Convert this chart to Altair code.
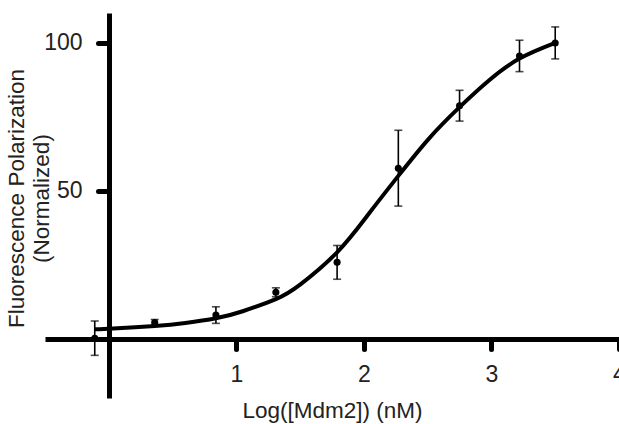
import altair as alt
import pandas as pd

# Binding titration: log concentration, normalized FP signal and SD
log_conc = [-0.11, 0.36, 0.84, 1.31, 1.79, 2.27, 2.75, 3.22, 3.50]
fp_mean = [0.2, 5.5, 8.0, 15.7, 25.8, 57.6, 78.7, 95.5, 99.9]
fp_sd = [5.8, 1.0, 2.8, 1.5, 5.7, 12.8, 5.2, 5.3, 5.4]

# Fitted dose-response curve, sampled along x
fit_x = [-0.11, 0.0, 0.36, 0.6, 0.84, 1.05, 1.31, 1.5, 1.79, 2.04, 2.27, 2.51, 2.75, 2.98, 3.22, 3.5]
fit_y = [3.2, 3.4, 4.3, 5.3, 6.9, 9.3, 13.4, 18.3, 29.2, 42.3, 55.0, 67.6, 78.2, 87.2, 94.6, 99.9]

x_ticks = [1, 2, 3, 4]
y_ticks = [50, 100]

pts = pd.DataFrame({"x": log_conc, "y": fp_mean, "sd": fp_sd})
pts["lo"] = pts["y"] - pts["sd"]
pts["hi"] = pts["y"] + pts["sd"]
fit = pd.DataFrame({"x": fit_x, "y": fit_y})

FONT = "Liberation Sans, Arial, Helvetica, sans-serif"
W, H = 574, 385

xscale = alt.Scale(domain=[-0.5, 4.0], nice=False, zero=False)
yscale = alt.Scale(domain=[-20, 110], nice=False, zero=False)

xaxis = alt.Axis(
    values=x_ticks, format="d", offset=-59, title="Log([Mdm2]) (nM)",
    domainWidth=5, domainColor="black", tickWidth=5, tickSize=10,
    tickCap="round", tickColor="black", labelFontSize=23, labelFont=FONT,
    labelColor="#222", labelPadding=14, labelFlush=False, titleFont=FONT,
    titleFontSize=22.5, titleFontWeight="normal", titleColor="#222",
    titleBaseline="middle", titleY=71, grid=False,
)
yaxis = alt.Axis(
    values=y_ticks, format="d", offset=-64, title=["Fluorescence Polarization", "(Normalized)"],
    domainWidth=5, domainColor="black", tickWidth=5, tickSize=11,
    tickCap="round", tickColor="black", labelFontSize=23, labelFont=FONT,
    labelColor="#222", labelPadding=16, titleFont=FONT, titleFontSize=22.5,
    titleFontWeight="normal", titleColor="#222", titleY=185, titleX=-81,
    titleLineHeight=25, grid=False,
)

curve = alt.Chart(fit).mark_line(
    color="black", strokeWidth=4, interpolate="natural", clip=False
).encode(
    x=alt.X("x:Q", scale=xscale, axis=xaxis),
    y=alt.Y("y:Q", scale=yscale, axis=yaxis),
)

bars = alt.Chart(pts).mark_rule(color="black", strokeWidth=1.6).encode(
    x="x:Q", y="lo:Q", y2="hi:Q"
)
cap_lo = alt.Chart(pts).mark_tick(
    color="black", orient="horizontal", size=8, thickness=1.6
).encode(x="x:Q", y="lo:Q")
cap_hi = alt.Chart(pts).mark_tick(
    color="black", orient="horizontal", size=8, thickness=1.6
).encode(x="x:Q", y="hi:Q")
dots = alt.Chart(pts).mark_circle(color="black", opacity=1, size=50).encode(
    x="x:Q", y="y:Q"
)

chart = (
    alt.layer(curve, bars, cap_lo, cap_hi, dots)
    .properties(
        width=W, height=H,
        background="white",
        autosize=alt.AutoSizeParams(type="none"),
        padding={"left": 45, "top": 13, "right": 0, "bottom": 26},
    )
    .configure_view(strokeWidth=0, stroke="transparent")
)

chart.save("out.html", embed_options={"renderer": "svg", "actions": False})
